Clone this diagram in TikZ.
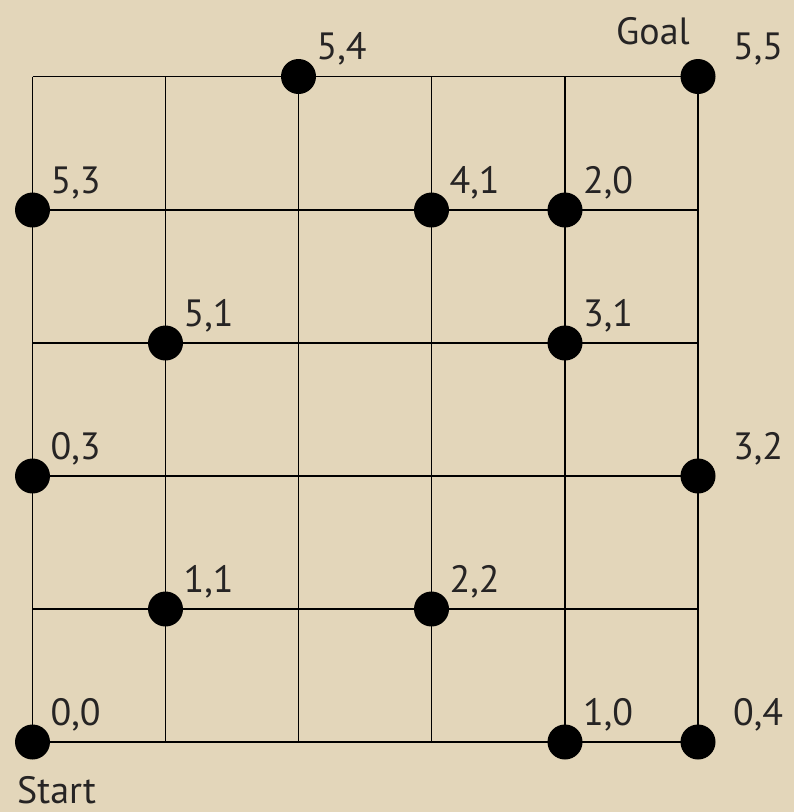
\documentclass[tikz,border=0pt]{standalone}
\usepackage{fontspec}
\setmainfont{PT Sans}
\definecolor{parch}{RGB}{227,214,186}
\definecolor{ink}{RGB}{38,36,36}
\tikzset{
  dot/.style={circle,fill=black,minimum size=35pt,inner sep=0pt},
  lbl/.style={anchor=base west,inner sep=0pt,text=ink,font=\fontsize{38}{40}\selectfont},
  gridline/.style={line width=1.9pt,draw=black},
}
\begin{document}
\begin{tikzpicture}[x=1pt,y=-1pt]
\fill[parch] (0,0) rectangle (794,812);
\useasboundingbox (0,0) rectangle (794,812);
% grid coordinates
\foreach \i/\x in {0/32.5,1/165.5,2/298.5,3/431.5,4/565,5/698}{
  \foreach \j/\y in {0/76.5,1/210,2/343,3/476,4/609,5/742}{
    \coordinate (g\i\j) at (\x,\y);
  }
}
% grid lines
\foreach \k in {0,...,5}{
  \draw[gridline] (g0\k) -- (g5\k);
  \draw[gridline] (g\k0) -- (g\k5);
}
% dots
\foreach \n/\c/\t/\dx in {a/20/{5,4}/18, b/50/{5,5}/35, c/01/{5,3}/18, d/31/{4,1}/18,
  e/41/{2,0}/18, f/12/{5,1}/18, g/42/{3,1}/18, h/03/{0,3}/18, k/53/{3,2}/35,
  m/14/{1,1}/18, p/34/{2,2}/18, q/05/{0,0}/18, r/45/{1,0}/18, s/55/{0,4}/35}{
  \node[dot] (n\n) at (g\c) {};
  \node[lbl] (l\n) at ([xshift=\dx pt,yshift=17pt]g\c) {\t};
}
\node[lbl] (goal) at (616,44) {Goal};
\node[lbl] (start) at (17,803) {Start};
\end{tikzpicture}
\end{document}
